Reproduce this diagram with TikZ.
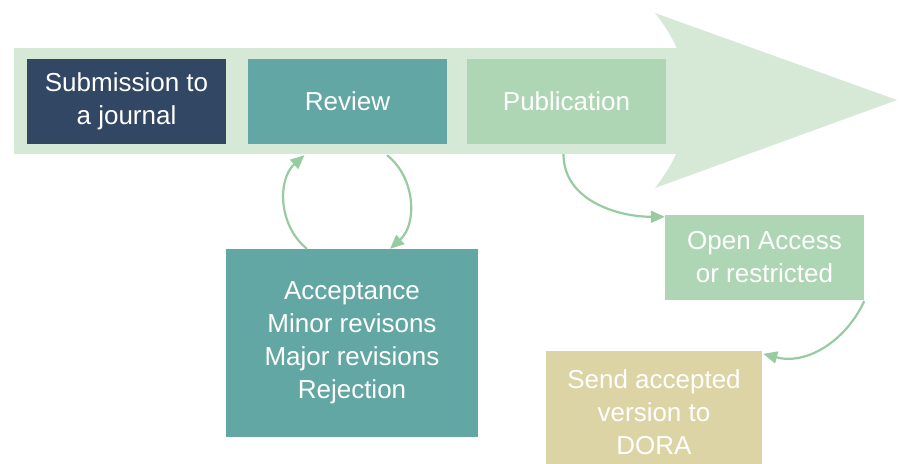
\documentclass[tikz,border=0pt]{standalone}
\usepackage{fontspec}
\setmainfont{Liberation Sans}
\usetikzlibrary{arrows.meta}

\definecolor{shaftgreen}{RGB}{214,232,214}
\definecolor{subblue}{RGB}{50,71,99}
\definecolor{revteal}{RGB}{98,167,163}
\definecolor{pubgreen}{RGB}{174,214,180}
\definecolor{doragold}{RGB}{220,212,165}
\definecolor{linkgreen}{RGB}{150,204,160}

\tikzset{
  stage/.style={rectangle, minimum width=199pt, minimum height=85pt, inner sep=0pt,
    text=white, align=center, font=\fontsize{26}{33}\selectfont},
  link/.style={draw=linkgreen, line width=2.2pt, -{Triangle[length=14pt,width=12pt]}},
}

\begin{document}
\begin{tikzpicture}[x=1pt,y=-1pt]
  \useasboundingbox (0,0) rectangle (899,463);
  \clip (0,0) rectangle (899,463);
  % the big process arrow behind the stages
  \fill[shaftgreen] (14,48) rectangle (700,154);
  \fill[shaftgreen] (655,13) .. controls (700,70) and (700,130) .. (655,188) -- (897,100) -- cycle;

  % stages
  \node[stage, fill=subblue] (sub) at (126.5,101.5) {Submission to\\a journal};
  \node[stage, fill=revteal] (rev) at (347.5,101.5) {Review};
  \node[stage, fill=pubgreen] (pub) at (566.5,101.5) {Publication};
  \node[stage, fill=revteal, minimum width=252pt, minimum height=188pt] (dec) at (352,343)
    {Acceptance\\Minor revisons\\Major revisions\\Rejection};
  \node[stage, fill=pubgreen] (oa) at (764.5,257.5) {Open Access\\or restricted};
  \node[stage, fill=doragold, minimum width=216pt, minimum height=122pt] (dora) at (654,412)
    {Send accepted\\version to\\DORA};

  % links
  \draw[link] ([xshift=-45pt]dec.north) to[bend left=50] ([xshift=-43pt,yshift=-11pt]rev.south);
  \draw[link] ([xshift=39.5pt,yshift=-11pt]rev.south) to[bend left=50] ([xshift=38pt]dec.north);
  \draw[link] ([xshift=-3pt,yshift=-10pt]pub.south) to[out=-90,in=180] ([yshift=-2pt]oa.north west);
  \draw[link] ([yshift=-1pt]oa.south east) to[out=-115,in=-15] ([xshift=1pt,yshift=-3pt]dora.north east);
\end{tikzpicture}
\end{document}
